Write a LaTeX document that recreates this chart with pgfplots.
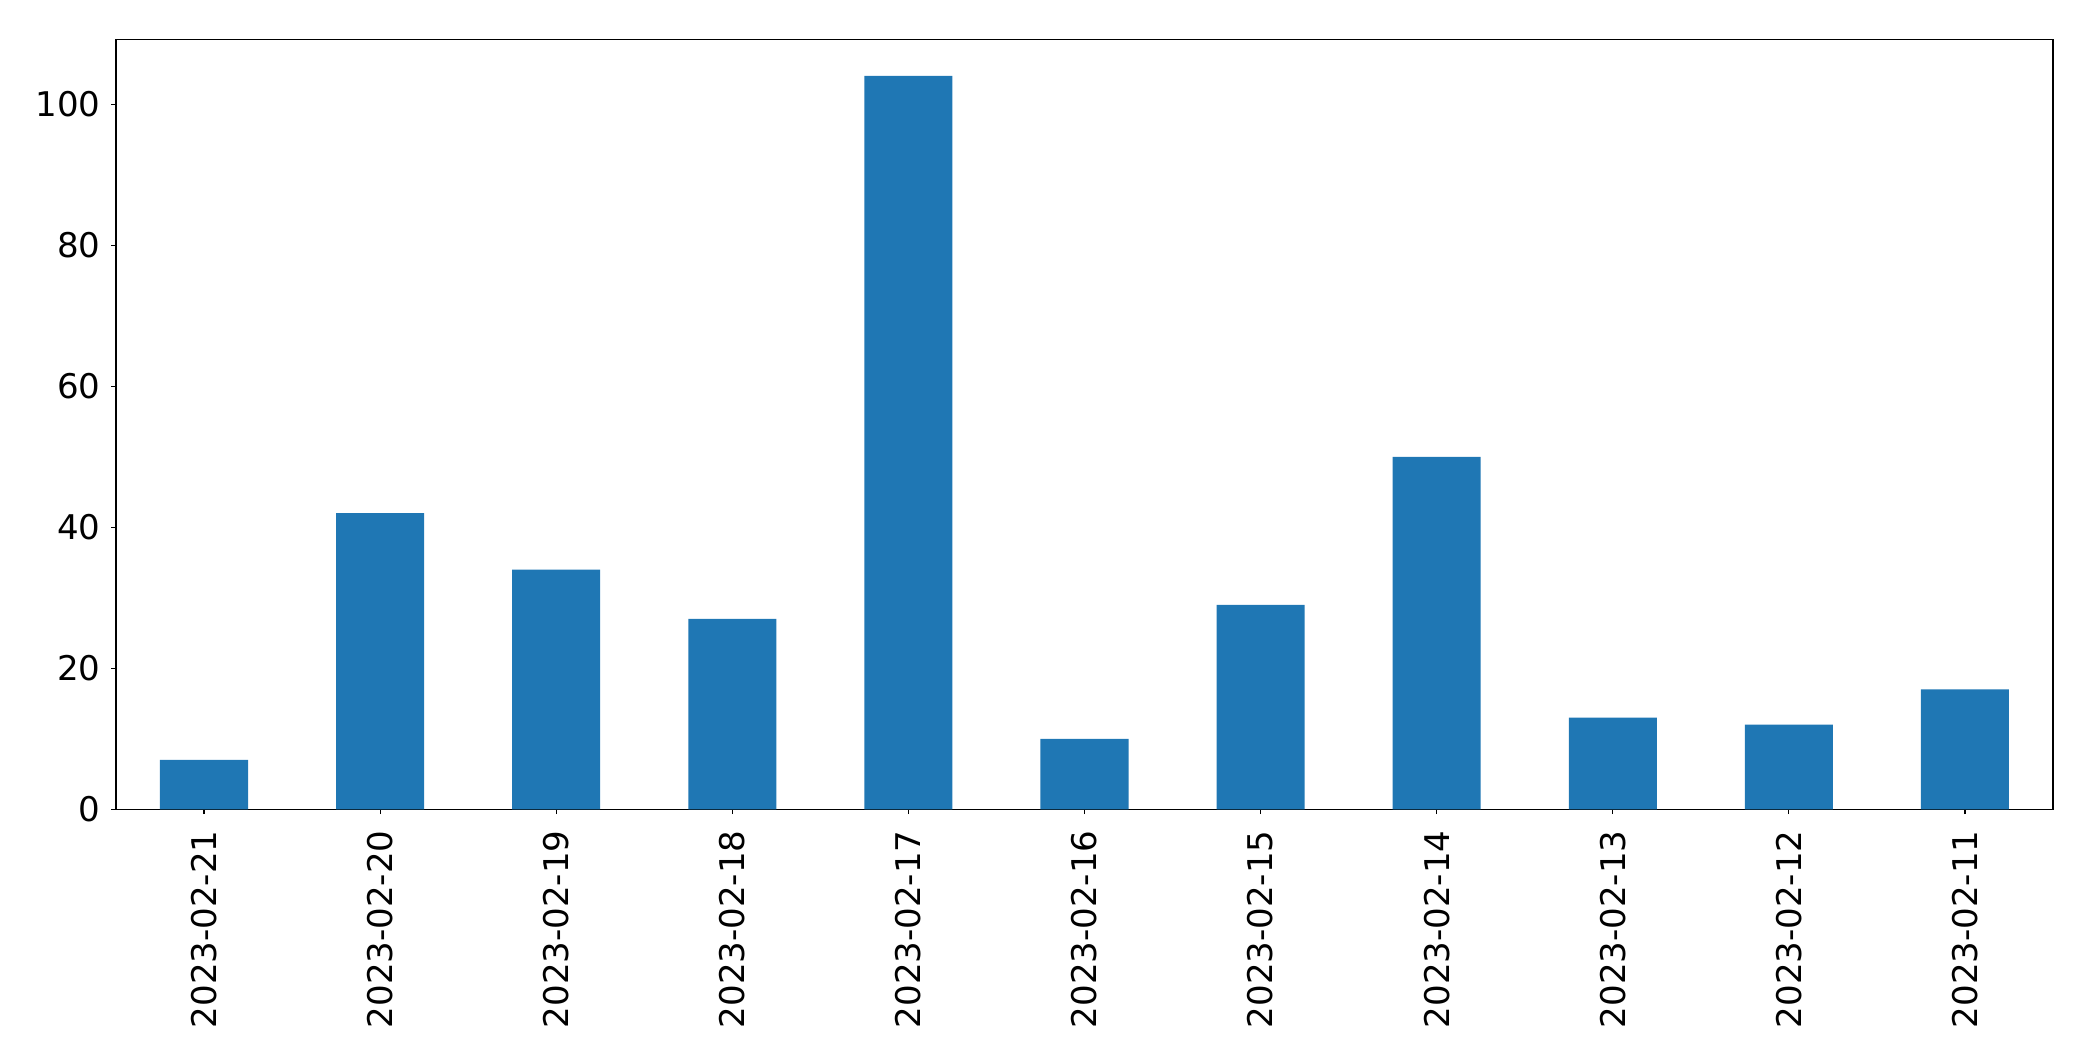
\documentclass[border=0pt]{standalone}
\usepackage{fontspec}
\setmainfont{DejaVu Sans}
\usepackage{pgfplots}
\pgfplotsset{compat=1.18}
\definecolor{mplblue}{HTML}{1F77B4}
\begin{document}
\begin{tikzpicture}
\begin{axis}[
  scale only axis,
  width=1394.6pt, height=554.4pt,
  xmin=-0.5, xmax=10.5,
  ymin=0, ymax=109.2,
  axis line style={line width=0.8pt},
  tick style={line width=0.8pt, black},
  major tick length=3.5pt,
  tick align=outside,
  tick pos=left,
  xtick={0,1,2,3,4,5,6,7,8,9,10},
  xticklabels={2023-02-21,2023-02-20,2023-02-19,2023-02-18,2023-02-17,2023-02-16,2023-02-15,2023-02-14,2023-02-13,2023-02-12,2023-02-11},
  ytick={0,20,40,60,80,100},
  ticklabel style={font=\fontsize{24.5}{29.4}\selectfont, inner sep=0pt},
  /pgf/number format/assume math mode=true,
  xticklabel style={rotate=90, anchor=east},
  yticklabel style={anchor=east},
  xticklabel shift=11.5pt,
  yticklabel shift=7.5pt,
]
\addplot[ybar, bar width=0.5, fill=mplblue, draw=none] coordinates {
(0,7) (1,42) (2,34) (3,27) (4,104) (5,10) (6,29) (7,50) (8,13) (9,12) (10,17)
};
\end{axis}
\path (current axis.south west) ++(-83.5pt,-181.4pt) coordinate (bbA);
\path (current axis.north east) ++(28.8pt,28.3pt) coordinate (bbB);
\path[use as bounding box] (bbA) rectangle (bbB);
\end{tikzpicture}
\end{document}
